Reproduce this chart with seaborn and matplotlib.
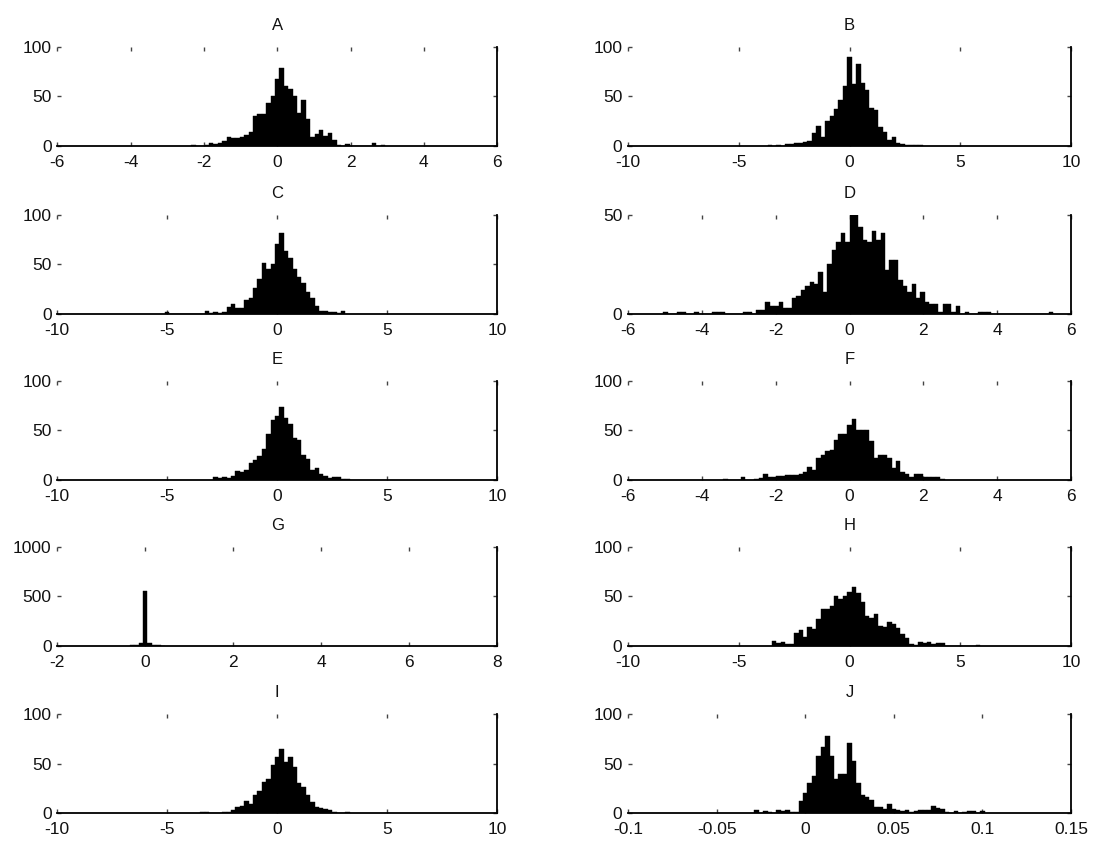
import numpy as np
import pandas as pd
import matplotlib
matplotlib.use("Agg")
import matplotlib.pyplot as plt
import seaborn as sns

# ---------------- data (counts in consecutive bins) ----------------
titles = ["A", "B", "C", "D", "E", "F", "G", "H", "I", "J"]

A_counts = [1, 0, 0, 1, 3, 2, 3, 5, 9, 8, 8, 9, 11, 14, 30, 32, 32, 43, 50, 67,
            78, 60, 57, 50, 33, 46, 27, 9, 12, 16, 10, 13, 6, 1, 0, 2, 0, 0, 0, 0,
            0, 3, 0, 1]
A_first, A_width = -2.28, 0.12

B_counts = [1, 0, 1, 0, 2, 2, 3, 3, 4, 5, 13, 20, 9, 25, 30, 37, 46, 60, 90, 62,
            83, 63, 56, 38, 36, 19, 14, 6, 9, 3, 2, 1, 1, 1, 1]
B_first, B_width = -3.6, 0.2

C_counts = [2, 0, 0, 0, 0, 0, 0, 0, 0, 3, 1, 2, 1, 2, 7, 10, 6, 6, 14, 16,
            26, 35, 51, 45, 50, 70, 82, 63, 56, 45, 37, 31, 22, 16, 8, 3, 3, 2, 2, 1,
            3]
C_first, C_width = -5.0, 0.2

D_counts = [1, 0, 0, 1, 1, 0, 0, 1, 0, 0, 0, 1, 1, 1, 0, 0, 0, 0, 1, 1,
            0, 2, 2, 6, 4, 4, 6, 3, 3, 8, 9, 12, 14, 16, 15, 21, 11, 25, 32, 36,
            41, 36, 50, 50, 44, 37, 36, 42, 37, 41, 22, 27, 27, 17, 14, 11, 15, 8, 11, 6,
            5, 5, 1, 5, 5, 1, 4, 0, 1, 0, 0, 1, 1, 1, 0, 0, 0, 0, 0, 0,
            0, 0, 0, 0, 0, 0, 0, 1]
D_first, D_width = -4.98, 0.12

E_counts = [3, 2, 3, 2, 4, 9, 8, 10, 17, 20, 24, 31, 46, 60, 64, 74, 62, 56, 42, 40,
            25, 21, 10, 12, 6, 4, 2, 3, 3, 1, 1]
E_first, E_width = -2.8, 0.2

F_counts = [1, 0, 0, 0, 3, 0, 0, 1, 2, 6, 3, 3, 4, 4, 5, 5, 5, 6, 8, 13,
            10, 22, 25, 29, 30, 40, 46, 46, 55, 61, 50, 50, 50, 39, 22, 25, 25, 22, 12, 19,
            8, 6, 3, 6, 6, 3, 3, 3, 3, 1]
F_first, F_width = -3.36, 0.12

G_counts = [8, 15, 28, 560, 35, 12, 8, 3]
G_first, G_width = -0.3, 0.1

H_counts = [5, 3, 4, 2, 2, 13, 16, 9, 19, 17, 27, 37, 37, 40, 50, 47, 50, 55, 60, 54,
            44, 30, 28, 32, 20, 19, 24, 22, 18, 12, 8, 2, 1, 4, 3, 4, 2, 3, 3, 0,
            0, 0, 0, 0, 0, 0, 1]
H_first, H_width = -3.4, 0.2

I_counts = [1, 1, 0, 0, 0, 1, 1, 3, 6, 7, 12, 9, 18, 22, 31, 34, 49, 57, 65, 52,
            57, 46, 30, 26, 18, 11, 6, 5, 4, 3, 1, 0, 0, 1]
I_first, I_width = -3.4, 0.2

J_counts = [3, 0, 2, 1, 0, 3, 2, 3, 1, 1, 12, 20, 30, 37, 58, 67, 78, 58, 34, 39,
            39, 71, 53, 30, 18, 16, 13, 6, 6, 4, 9, 4, 3, 2, 3, 1, 2, 3, 3, 3,
            7, 5, 4, 1, 0, 2, 0, 1, 2, 2, 0, 2]
J_first, J_width = -0.0275, 0.0025

x_limits = [(-6, 6), (-10, 10), (-10, 10), (-6, 6), (-10, 10),
            (-6, 6), (-2, 8), (-10, 10), (-10, 10), (-0.1, 0.15)]
x_steps = [2, 5, 5, 2, 5, 2, 2, 5, 5, 0.05]
y_tops = [100, 100, 100, 50, 100, 100, 1000, 100, 100, 100]

counts_all = [A_counts, B_counts, C_counts, D_counts, E_counts,
              F_counts, G_counts, H_counts, I_counts, J_counts]
firsts = [A_first, B_first, C_first, D_first, E_first,
          F_first, G_first, H_first, I_first, J_first]
widths_bin = [A_width, B_width, C_width, D_width, E_width,
              F_width, G_width, H_width, I_width, J_width]

# ---------------- style ----------------
sns.set_theme(style="white")
plt.rcParams["font.family"] = ["Liberation Sans", "DejaVu Sans"]

fig = plt.figure(figsize=(10.95, 8.44), dpi=100)
col_left = [0.0523, 0.5735]
col_w = [0.4018, 0.4046]
row_bottom = [0.8274, 0.6283, 0.4315, 0.2346, 0.0367]
ax_h = 0.1173


def fmt(v):
    s = f"{v:.10g}"
    return "0" if s in ("-0", "0") else s


for i, name in enumerate(titles):
    r, c = divmod(i, 2)
    ax = fig.add_axes([col_left[c], row_bottom[r], col_w[c], ax_h])
    counts = np.array(counts_all[i], dtype=float)
    w = widths_bin[i]
    centers = firsts[i] + w * np.arange(len(counts))
    df = pd.DataFrame({"value": centers, "count": counts})
    sns.histplot(data=df, x="value", weights="count", binwidth=w,
                 binrange=(centers[0] - w / 2, centers[-1] + w / 2),
                 color="black", edgecolor="black", linewidth=0.3,
                 alpha=1.0, ax=ax)
    ax.set_xlabel("")
    ax.set_ylabel("")
    lo, hi = x_limits[i]
    ax.set_xlim(lo, hi)
    ax.set_ylim(0, y_tops[i])
    n = int(round((hi - lo) / x_steps[i]))
    xt = [lo + k * x_steps[i] for k in range(n + 1)]
    ax.set_xticks(xt)
    ax.set_xticklabels([fmt(round(v, 6)) for v in xt])
    yt = [0, y_tops[i] / 2, y_tops[i]] if y_tops[i] != 50 else [0, 50]
    ax.set_yticks(yt)
    ax.set_yticklabels([fmt(v) for v in yt])
    for s in ["left", "top"]:
        ax.spines[s].set_visible(False)
    for s in ["bottom", "right"]:
        ax.spines[s].set_visible(True)
        ax.spines[s].set_color("black")
        ax.spines[s].set_linewidth(1.3)
    ax.tick_params(axis="both", which="major", direction="in", length=3,
                   width=1.0, color="#444444", bottom=True, top=True,
                   left=True, right=True, labelsize=12.5,
                   labelcolor="#111111")
    ax.tick_params(axis="x", pad=6.5)
    ax.tick_params(axis="y", pad=4)
    ax.set_title(name, fontsize=12, pad=12, color="#111111")
    ax.set_facecolor("white")

fig.savefig("out.png", dpi=100, facecolor="white")
